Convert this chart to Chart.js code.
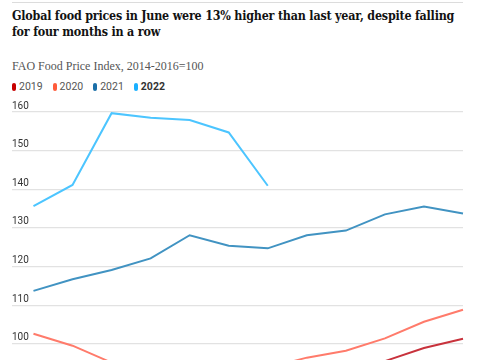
<!DOCTYPE html>
<html><head><meta charset="utf-8">
<script src="https://cdn.jsdelivr.net/npm/chart.js@4"></script>
<style>
html,body{margin:0;padding:0;width:485px;height:360px;overflow:hidden;background:#fff;}
#rule{position:absolute;left:12px;top:2px;width:451px;height:1px;background:#dcdcdc;}
#title{position:absolute;left:12px;top:8px;font-family:"DejaVu Serif Condensed","DejaVu Serif",serif;font-stretch:condensed;font-weight:bold;font-size:14px;line-height:16px;color:#121212;white-space:nowrap;letter-spacing:-0.2px;}
#sub{position:absolute;left:12px;top:59px;font-family:"Liberation Serif",serif;font-size:12px;line-height:14px;color:#555;white-space:nowrap;}
#legend{position:absolute;left:12px;top:81px;font-family:Roboto,sans-serif;font-size:10.5px;line-height:12px;color:#555;white-space:nowrap;}
.item{display:inline-block;margin-right:10px}
.sw{display:inline-block;width:4px;height:8px;border-radius:2px;margin-right:3px;vertical-align:-1px}
canvas{position:absolute;left:0;top:0}
</style></head>
<body>
<div id="rule"></div>
<div id="title"><span id="t1">Global food prices in June were 13% higher than last year, despite falling</span><br>for four months in a row</div>
<div id="sub">FAO Food Price Index, 2014-2016=100</div>
<div id="legend"></div>
<canvas id="c" width="485" height="430"></canvas>
<script>
const months = ['Jan','Feb','Mar','Apr','May','Jun','Jul','Aug','Sep','Oct','Nov','Dec'];
const years = ['2019','2020','2021','2022'];
const v2019 = [92.6, 94.3, 94.9, 95.3, 95.2, 94.3, 93.8, 93.2, 93.3, 95.5, 98.9, 101.3];
const v2020 = [102.6, 99.5, 95.1, 92.4, 91.0, 93.1, 93.8, 96.4, 98.2, 101.4, 105.7, 108.8];
const v2021 = [113.7, 116.7, 119.1, 122.1, 128.1, 125.4, 124.7, 128.1, 129.3, 133.5, 135.5, 133.7];
const v2022 = [135.6, 141.1, 159.7, 158.5, 157.9, 154.7, 140.9];
const yTicks = [80, 90, 100, 110, 120, 130, 140, 150, 160];

const lineColors = ['#c8323c', '#ff7b6b', '#4193c2', '#4cc5ff'];
const swatchColors = ['#c70000', '#ff5b3a', '#1b6fa8', '#1ab0ff'];
const series = [v2019, v2020, v2021, v2022];

// fit title width
(function(){
  const t1 = document.getElementById('t1');
  const w = t1.getBoundingClientRect().width;
  const target = 444;
  const fs = 14 * target / w;
  document.getElementById('title').style.fontSize = fs.toFixed(2) + 'px';
})();

const leg = document.getElementById('legend');
years.forEach((y, i) => {
  const it = document.createElement('span');
  it.className = 'item';
  const sw = document.createElement('span');
  sw.className = 'sw';
  sw.style.background = swatchColors[i];
  const tx = document.createElement('span');
  tx.textContent = y;
  if (i === years.length - 1) { tx.style.fontWeight = 'bold'; tx.style.color = '#333'; }
  it.appendChild(sw); it.appendChild(tx);
  leg.appendChild(it);
});

new Chart(document.getElementById('c'), {
  type: 'line',
  data: {
    datasets: series.map((vals, i) => ({
      label: years[i],
      data: vals.map((v, k) => ({x: k + 1, y: v})),
      borderColor: lineColors[i],
      backgroundColor: lineColors[i],
      borderWidth: 2,
      pointRadius: 0,
      tension: 0,
      clip: false,
      order: -i
    }))
  },
  options: {
    responsive: false,
    animation: false,
    layout: {padding: {top: 112, left: 12, right: 22, bottom: 9}},
    plugins: {legend: {display: false}, tooltip: {enabled: false}},
    scales: {
      x: {type: 'linear', min: 0.45, max: 12, display: false,
          ticks: {callback: v => months[v - 1] || ''}},
      y: {
        min: 80, max: 160,
        afterBuildTicks: axis => { axis.ticks = yTicks.map(v => ({value: v})); },
        border: {display: false},
        grid: {color: '#e2e2e2', lineWidth: 1.2, drawTicks: false},
        ticks: {mirror: true, padding: 0, labelOffset: -6, color: '#333',
                font: {family: 'Roboto', size: 10}}
      }
    }
  }
});
</script>
</body></html>
